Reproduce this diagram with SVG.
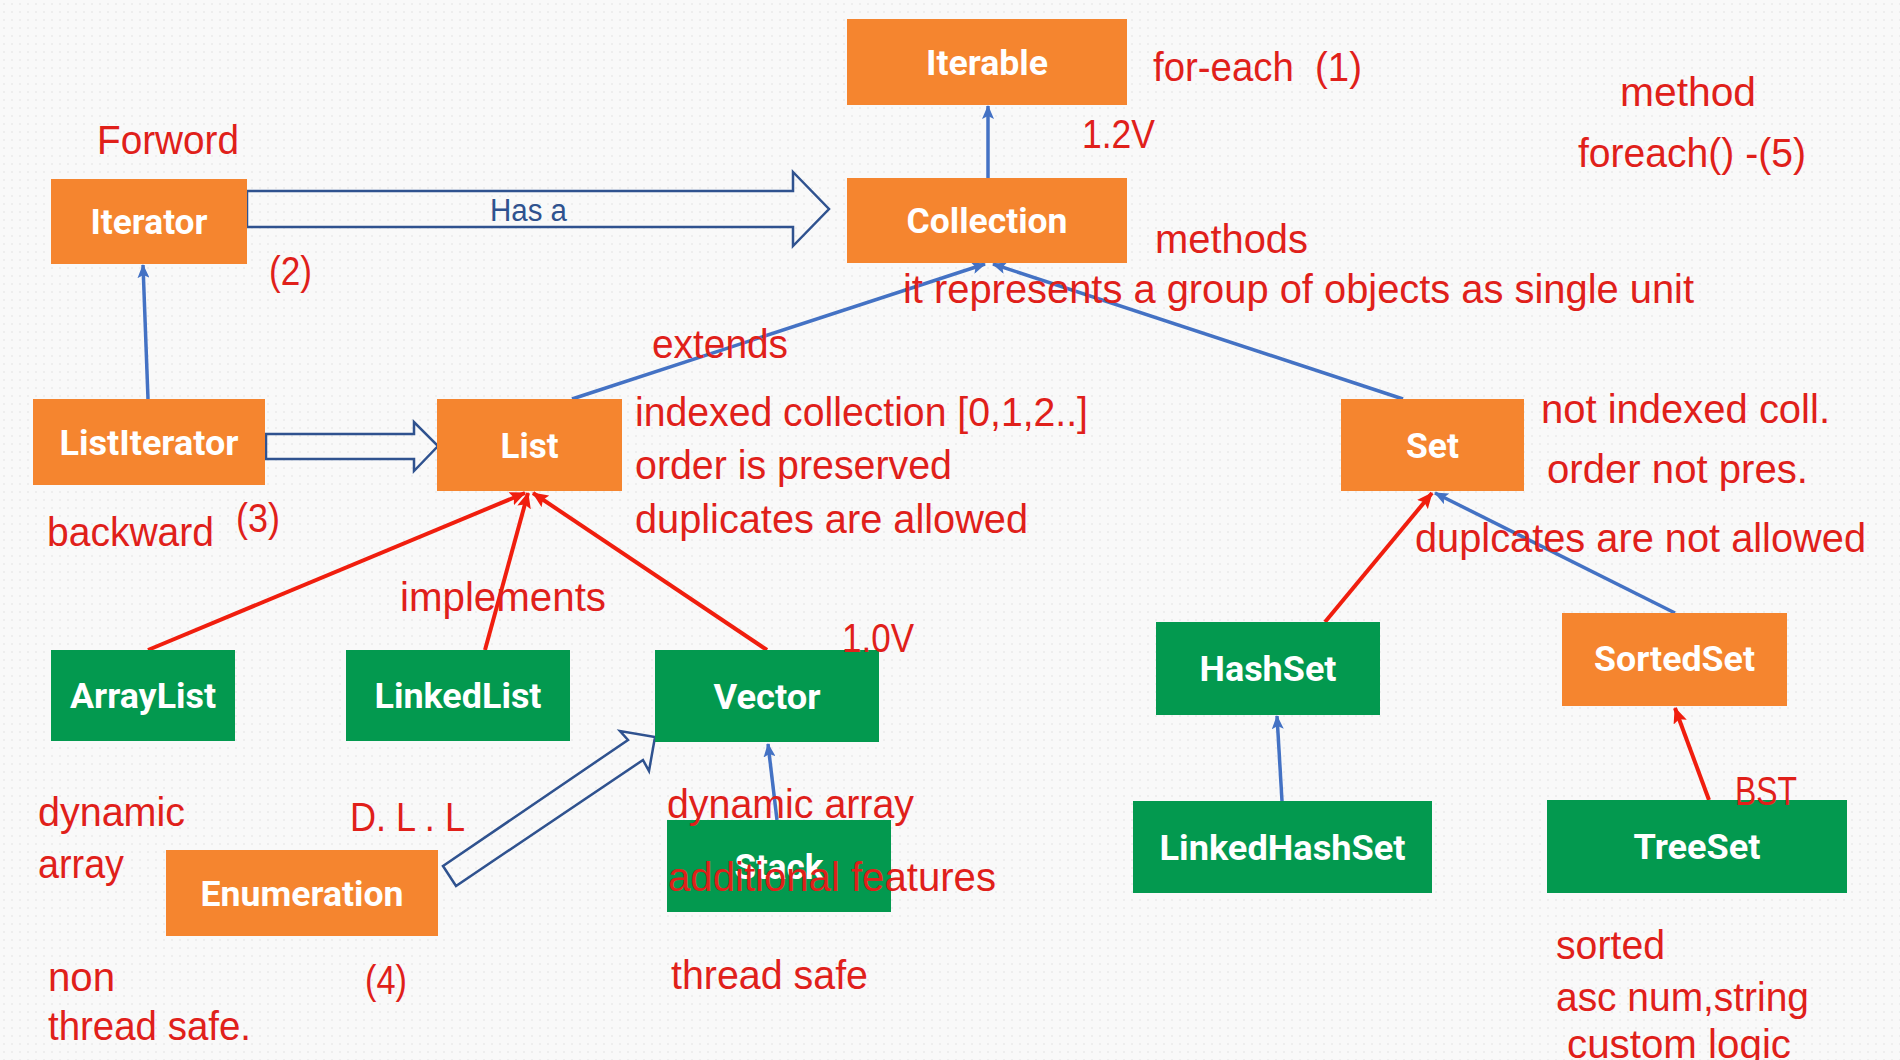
<svg xmlns="http://www.w3.org/2000/svg" width="1900" height="1060" viewBox="0 0 1900 1060">
<defs>
<pattern id="dots" width="8" height="8" patternUnits="userSpaceOnUse"><circle cx="4" cy="4" r="0.9" fill="#E9E9E9"/></pattern>
<marker id="ab" markerUnits="userSpaceOnUse" markerWidth="14" markerHeight="12" refX="13" refY="6" orient="auto"><path d="M0,0 L14,6 L0,12 L3,6 z" fill="#4472C4"/></marker>
<marker id="ar" markerUnits="userSpaceOnUse" markerWidth="16" markerHeight="14" refX="15" refY="7" orient="auto"><path d="M0,0 L16,7 L0,14 L3,7 z" fill="#F01E0E"/></marker>
<style>
.o{fill:#F5852F}
.g{fill:#03994F}
.lbl{font-family:Roboto,"Liberation Sans",Arial,sans-serif;font-weight:700;font-size:35px;fill:#FFFFFF;text-anchor:middle}
.note{font-family:"Liberation Sans",Arial,sans-serif;font-size:40px;fill:#E0201A}
.blue{stroke:#4472C4;stroke-width:3.5;fill:none;marker-end:url(#ab)}
.red{stroke:#F01E0E;stroke-width:4;fill:none;marker-end:url(#ar)}
.hollow{fill:none;stroke:#2F528F;stroke-width:2.5;stroke-linejoin:miter}
.hasa{font-family:"Liberation Sans",Arial,sans-serif;font-size:31px;fill:#2F528F}
</style>
</defs>
<rect width="1900" height="1060" fill="#F9F9F9"/>
<rect width="1900" height="1060" fill="url(#dots)"/>

<g id="connectors">
<line class="blue" x1="988" y1="178" x2="988" y2="106"/>
<line class="blue" x1="148" y1="399" x2="143" y2="265"/>
<line class="blue" x1="572" y1="399" x2="985" y2="264"/>
<line class="blue" x1="1403" y1="399" x2="993" y2="264"/>
<line class="red" x1="148" y1="650" x2="525" y2="493"/>
<line class="red" x1="485" y1="650" x2="528" y2="493"/>
<line class="red" x1="767" y1="650" x2="533" y2="493"/>
<line class="red" x1="1325" y1="622" x2="1432" y2="493"/>
<line class="blue" x1="1675" y1="613" x2="1435" y2="493"/>
<line class="blue" x1="1282" y1="801" x2="1277" y2="716"/>
<line class="red" x1="1709" y1="800" x2="1675" y2="708"/>
<line class="blue" x1="777" y1="820" x2="768" y2="744"/>
<polygon class="hollow" points="247,191 793,191 793,172 829,209 793,246 793,227 247,227"/>
<text class="hasa" x="490" y="221" textLength="77" lengthAdjust="spacingAndGlyphs">Has a</text>
<polygon class="hollow" points="266,434 414,434 414,422 438,446 414,471 414,459 266,459"/>
<polygon class="hollow" points="443,866 628,740 620,731 655,737 649,771 643,760 456,886"/>
</g>

<g id="node-iterable"><rect class="o" x="847" y="19" width="280" height="86"/><text class="lbl" x="987" y="74.5" textLength="122" lengthAdjust="spacingAndGlyphs">Iterable</text></g>
<g id="node-collection"><rect class="o" x="847" y="178" width="280" height="85"/><text class="lbl" x="987" y="233" textLength="161" lengthAdjust="spacingAndGlyphs">Collection</text></g>
<g id="node-iterator"><rect class="o" x="51" y="179" width="196" height="85"/><text class="lbl" x="149" y="234" textLength="117" lengthAdjust="spacingAndGlyphs">Iterator</text></g>
<g id="node-listiterator"><rect class="o" x="33" y="399" width="232" height="86"/><text class="lbl" x="149" y="454.5" textLength="179" lengthAdjust="spacingAndGlyphs">ListIterator</text></g>
<g id="node-list"><rect class="o" x="437" y="399" width="185" height="92"/><text class="lbl" x="529.5" y="457.5" textLength="58" lengthAdjust="spacingAndGlyphs">List</text></g>
<g id="node-set"><rect class="o" x="1341" y="399" width="183" height="92"/><text class="lbl" x="1432.5" y="457.5" textLength="53" lengthAdjust="spacingAndGlyphs">Set</text></g>
<g id="node-arraylist"><rect class="g" x="51" y="650" width="184" height="91"/><text class="lbl" x="143" y="708" textLength="146" lengthAdjust="spacingAndGlyphs">ArrayList</text></g>
<g id="node-linkedlist"><rect class="g" x="346" y="650" width="224" height="91"/><text class="lbl" x="458" y="708" textLength="167" lengthAdjust="spacingAndGlyphs">LinkedList</text></g>
<g id="node-vector"><rect class="g" x="655" y="650" width="224" height="92"/><text class="lbl" x="767" y="708.5" textLength="107" lengthAdjust="spacingAndGlyphs">Vector</text></g>
<g id="node-stack"><rect class="g" x="667" y="820" width="224" height="92"/><text class="lbl" x="779" y="878.5" textLength="89" lengthAdjust="spacingAndGlyphs">Stack</text></g>
<g id="node-enumeration"><rect class="o" x="166" y="850" width="272" height="86"/><text class="lbl" x="302" y="905.5" textLength="203" lengthAdjust="spacingAndGlyphs">Enumeration</text></g>
<g id="node-hashset"><rect class="g" x="1156" y="622" width="224" height="93"/><text class="lbl" x="1268" y="681" textLength="137" lengthAdjust="spacingAndGlyphs">HashSet</text></g>
<g id="node-sortedset"><rect class="o" x="1562" y="613" width="225" height="93"/><text class="lbl" x="1674.5" y="671" textLength="161" lengthAdjust="spacingAndGlyphs">SortedSet</text></g>
<g id="node-linkedhashset"><rect class="g" x="1133" y="801" width="299" height="92"/><text class="lbl" x="1282.5" y="859.5" textLength="246" lengthAdjust="spacingAndGlyphs">LinkedHashSet</text></g>
<g id="node-treeset"><rect class="g" x="1547" y="800" width="300" height="93"/><text class="lbl" x="1697" y="859" textLength="127" lengthAdjust="spacingAndGlyphs">TreeSet</text></g>

<g id="notes">
<text class="note" x="97" y="154" textLength="142" lengthAdjust="spacingAndGlyphs">Forword</text>
<text class="note" x="269" y="285" textLength="43" lengthAdjust="spacingAndGlyphs">(2)</text>
<text class="note" x="1153" y="81" xml:space="preserve" textLength="209" lengthAdjust="spacingAndGlyphs">for-each  (1)</text>
<text class="note" x="1082" y="148" textLength="73" lengthAdjust="spacingAndGlyphs">1.2V</text>
<text class="note" x="1620" y="106" textLength="136" lengthAdjust="spacingAndGlyphs">method</text>
<text class="note" x="1578" y="167" textLength="228" lengthAdjust="spacingAndGlyphs">foreach() -(5)</text>
<text class="note" x="1155" y="253" textLength="153" lengthAdjust="spacingAndGlyphs">methods</text>
<text class="note" x="903" y="303" textLength="791" lengthAdjust="spacingAndGlyphs">it represents a group of objects as single unit</text>
<text class="note" x="652" y="358" textLength="136" lengthAdjust="spacingAndGlyphs">extends</text>
<text class="note" x="635" y="426" textLength="453" lengthAdjust="spacingAndGlyphs">indexed collection [0,1,2..]</text>
<text class="note" x="635" y="479" textLength="317" lengthAdjust="spacingAndGlyphs">order is preserved</text>
<text class="note" x="635" y="533" textLength="393" lengthAdjust="spacingAndGlyphs">duplicates are allowed</text>
<text class="note" x="1541" y="423" textLength="289" lengthAdjust="spacingAndGlyphs">not indexed coll.</text>
<text class="note" x="1547" y="483" textLength="261" lengthAdjust="spacingAndGlyphs">order not pres.</text>
<text class="note" x="1415" y="552" textLength="451" lengthAdjust="spacingAndGlyphs">duplcates are not allowed</text>
<text class="note" x="47" y="546" textLength="167" lengthAdjust="spacingAndGlyphs">backward</text>
<text class="note" x="236" y="532" textLength="44" lengthAdjust="spacingAndGlyphs">(3)</text>
<text class="note" x="400" y="611" textLength="206" lengthAdjust="spacingAndGlyphs">implements</text>
<text class="note" x="842" y="652" textLength="72" lengthAdjust="spacingAndGlyphs">1.0V</text>
<text class="note" x="38" y="826" textLength="147" lengthAdjust="spacingAndGlyphs">dynamic</text>
<text class="note" x="38" y="878" textLength="86" lengthAdjust="spacingAndGlyphs">array</text>
<text class="note" x="350" y="831" xml:space="preserve" textLength="115" lengthAdjust="spacingAndGlyphs">D. L . L</text>
<text class="note" x="667" y="818" textLength="247" lengthAdjust="spacingAndGlyphs">dynamic array</text>
<text class="note" x="668" y="891" textLength="328" lengthAdjust="spacingAndGlyphs">additional features</text>
<text class="note" x="48" y="991" textLength="67" lengthAdjust="spacingAndGlyphs">non</text>
<text class="note" x="48" y="1040" textLength="203" lengthAdjust="spacingAndGlyphs">thread safe.</text>
<text class="note" x="365" y="994" textLength="42" lengthAdjust="spacingAndGlyphs">(4)</text>
<text class="note" x="671" y="989" textLength="197" lengthAdjust="spacingAndGlyphs">thread safe</text>
<text class="note" x="1735" y="805" textLength="62" lengthAdjust="spacingAndGlyphs">BST</text>
<text class="note" x="1556" y="959" textLength="109" lengthAdjust="spacingAndGlyphs">sorted</text>
<text class="note" x="1556" y="1011" textLength="253" lengthAdjust="spacingAndGlyphs">asc num,string</text>
<text class="note" x="1567" y="1058" textLength="224" lengthAdjust="spacingAndGlyphs">custom logic</text>
</g>
</svg>
